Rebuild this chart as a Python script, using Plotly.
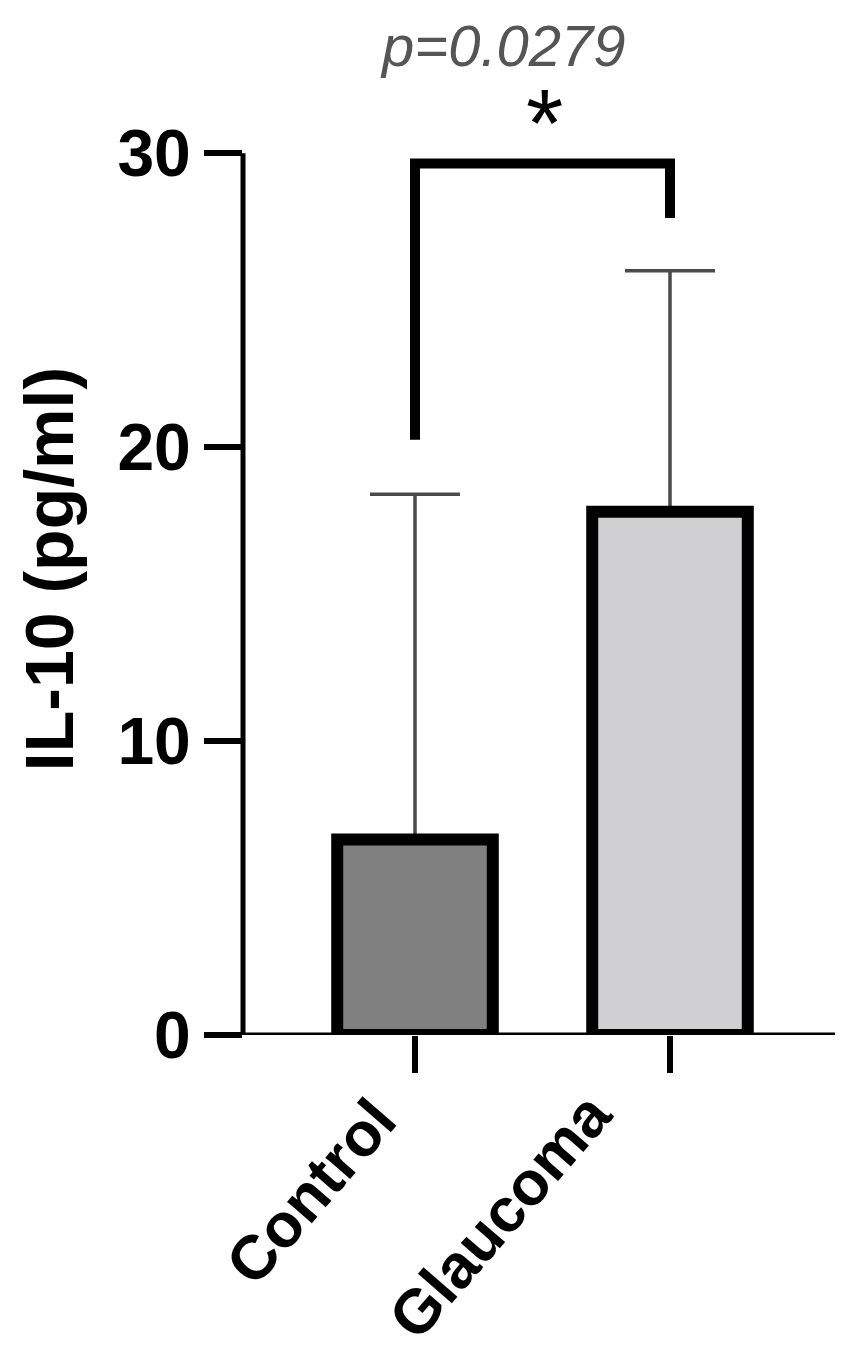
import plotly.graph_objects as go

categories = ["Control", "Glaucoma"]
means = [6.65, 17.8]
sd_upper = [11.75, 8.2]
bar_colors = ["#808080", "#d0d0d2"]
y_ticks = [0, 10, 20, 30]
bracket_y = [20.25, 29.65, 29.65, 27.8]
p_text = "p=0.0279"
star_text = "*"
y_title = "IL-10 (pg/ml)"

OFF = 8  # page body margin
W, H = 860 - OFF, 1356 - OFF
ml, mr, mb = 235, 25, 321
y_max = 34.5
px_per_unit = 29.4
plot_h = y_max * px_per_unit
mt = H - mb - plot_h
plot_w = W - ml - mr
PX0 = ml + OFF          # page x of plot left
PY0 = H - mb + OFF      # page y of y=0


def px_x(X):
    return (X - PX0) / plot_w


def px_y(Y):
    return (PY0 - Y) / plot_h


FONT = "Liberation Sans, Arial"

fig = go.Figure()
# error bars (drawn underneath the bars)
fig.add_trace(go.Bar(
    x=categories, y=means, width=0.61,
    marker=dict(color="rgba(0,0,0,0)", line=dict(width=0)),
    error_y=dict(type="data", array=sd_upper, arrayminus=[0, 0], symmetric=False,
                 color="#4a4a4a", thickness=3.5, width=45),
    showlegend=False, hoverinfo="skip",
))
fig.add_trace(go.Bar(
    x=categories, y=means, width=0.61,
    marker=dict(color=bar_colors, line=dict(color="black", width=12)),
    showlegend=False,
))
# significance bracket
fig.add_trace(go.Scatter(
    x=[categories[0], categories[0], categories[1], categories[1]], y=bracket_y,
    mode="lines", line=dict(color="black", width=10), showlegend=False,
    hoverinfo="skip",
))

# axis lines
fig.add_shape(type="line", xref="paper", yref="y", x0=0, x1=0, y0=0, y1=30,
              line=dict(color="black", width=5))
fig.add_shape(type="line", xref="paper", yref="y", x0=px_x(206), x1=1,
              y0=0, y1=0, line=dict(color="black", width=5))

fig.add_annotation(text=star_text, xref="paper", yref="paper",
                   x=px_x(544), y=px_y(122),
                   showarrow=False, font=dict(family=FONT, size=96, color="black"),
                   xanchor="center", yanchor="middle")
fig.add_annotation(text=p_text, xref="paper", yref="paper",
                   x=px_x(503), y=px_y(45),
                   showarrow=False,
                   font=dict(family=FONT, size=58, color="#555555", style="italic"),
                   xanchor="center", yanchor="middle")
fig.add_annotation(text="<b>" + y_title + "</b>", xref="paper", yref="paper",
                   x=px_x(49), y=px_y(569), textangle=-90,
                   showarrow=False, font=dict(family=FONT, size=68, color="black"),
                   xanchor="center", yanchor="middle")

# rotated category labels
label_shift = [-104, -170]
label_center_y = [1192, 1216]
for cat, dx, cy in zip(categories, label_shift, label_center_y):
    fig.add_annotation(text="<b>" + cat + "</b>", xref="x", yref="paper",
                       x=cat, y=px_y(cy), xshift=dx, textangle=-49,
                       showarrow=False, font=dict(family=FONT, size=62, color="black"),
                       xanchor="center", yanchor="middle")

fig.update_layout(
    width=W, height=H,
    barmode="overlay",
    margin=dict(l=ml, r=mr, t=mt, b=mb, pad=0, autoexpand=False),
    plot_bgcolor="white", paper_bgcolor="white",
    xaxis=dict(range=[-172 / 255, 1 + 165 / 255], showline=False, showgrid=False, zeroline=False,
               automargin=False, showticklabels=False,
               ticks="outside", ticklen=37, tickwidth=6, tickcolor="black"),
    yaxis=dict(range=[0, y_max], tickvals=y_ticks, showline=False, showgrid=False, zeroline=False,
               automargin=False,
               ticks="outside", ticklen=38, tickwidth=6, tickcolor="black",
               tickfont=dict(family=FONT, size=66, color="black", weight="bold")),
)

fig.write_html("out.html")
